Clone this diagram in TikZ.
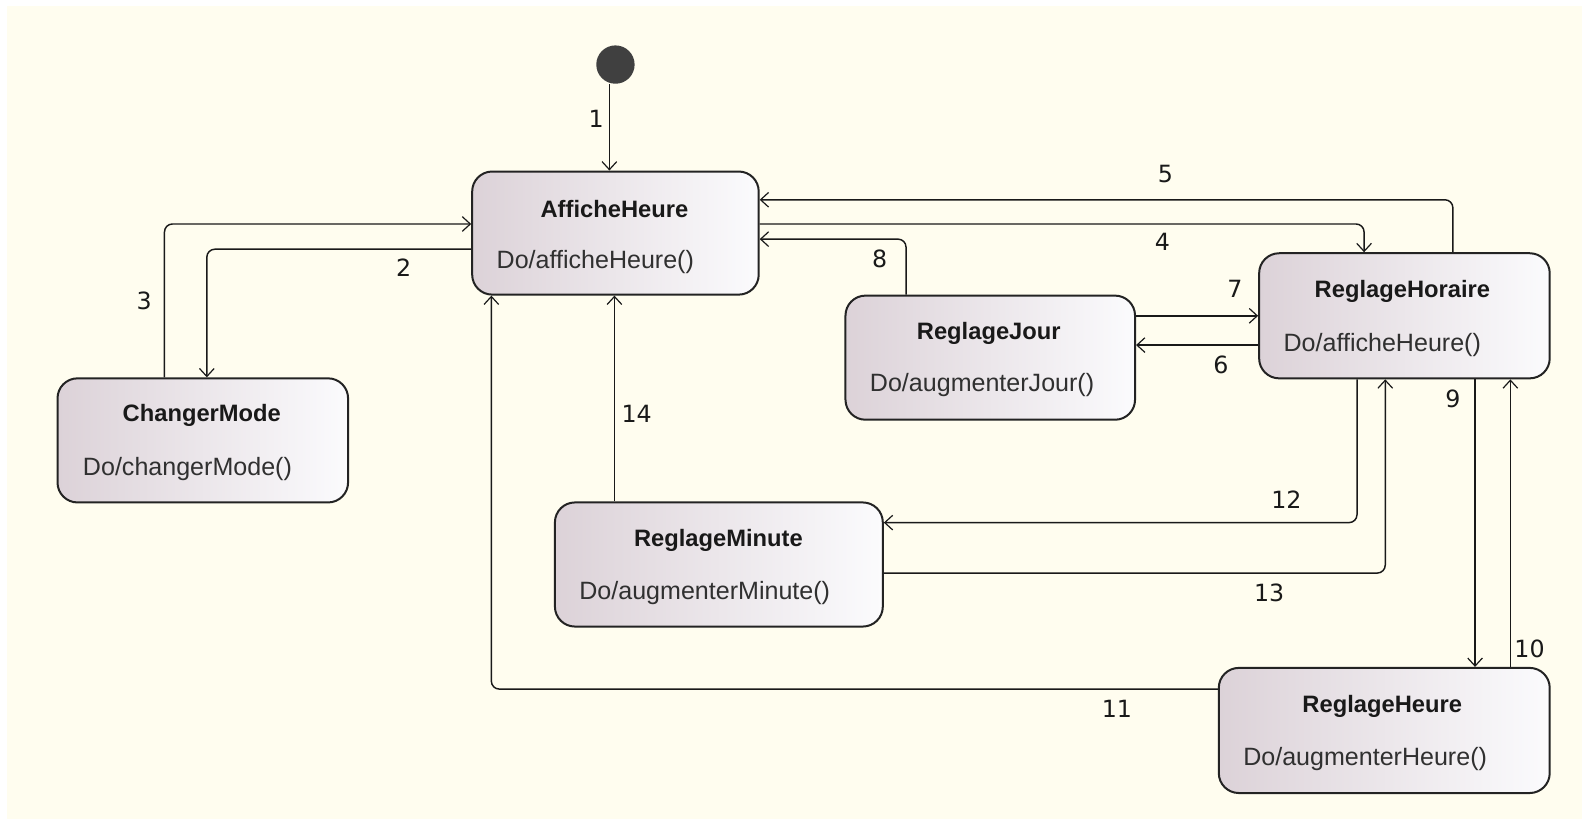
\documentclass[tikz,border=0pt]{standalone}
\usepackage{fontspec}
\setmainfont{Liberation Sans}
\newfontfamily\numfont{DejaVu Sans}
\usetikzlibrary{arrows.meta}
\definecolor{bg}{RGB}{255,253,239}
\definecolor{boxl}{RGB}{220,210,216}
\definecolor{boxr}{RGB}{251,251,253}
\definecolor{edge}{RGB}{35,35,35}
\definecolor{ink}{RGB}{25,25,25}
\newcommand\pxu{0.757pt}
\tikzset{
  statebox/.style={draw=edge, line width=1.5pt, rounded corners=15pt,
    left color=boxl, right color=boxr, inner sep=0pt},
  ttl/.style={font=\fontsize{17.8}{20}\selectfont\bfseries, text=ink, inner sep=0pt},
  bdy/.style={font=\fontsize{18.8}{21}\selectfont, text=ink!90, inner sep=0pt, anchor=west},
  num/.style={font=\fontsize{17.8}{20}\selectfont\numfont, text=ink, inner sep=0pt},
  tr/.style={draw=ink, line width=1.1pt, rounded corners=6pt,
    -{Straight Barb[length=6pt,width=11pt,line width=0.9pt]}},
}
\begin{document}
\begin{tikzpicture}[x=0.757pt,y=-0.757pt]
\useasboundingbox (0,0) rectangle (1568,812);
\fill[white] (0,0) rectangle (1568,812);
\fill[bg] (7,6) rectangle (1568,812);

% initial state
\node[circle, fill=black!75, minimum size=38*\pxu, inner sep=0pt] (init) at (610,64) {};

% states
\node[statebox, minimum width=284*\pxu, minimum height=122*\pxu] (aff) at (610,231) {};
\node[statebox, minimum width=288*\pxu, minimum height=123*\pxu] (chg) at (201,436.5) {};
\node[statebox, minimum width=287*\pxu, minimum height=123*\pxu] (jour) at (981.5,354.5) {};
\node[statebox, minimum width=288*\pxu, minimum height=124*\pxu] (hor) at (1392,313) {};
\node[statebox, minimum width=325*\pxu, minimum height=123*\pxu] (min) at (712.5,559.5) {};
\node[statebox, minimum width=328*\pxu, minimum height=124*\pxu] (heu) at (1372,724) {};

% state texts
\node[ttl] (aff-t) at (609,207) {AfficheHeure};
\node[bdy] (aff-b) at (492,260) {Do/afficheHeure()};
\node[ttl] (chg-t) at (200,412) {ChangerMode};
\node[bdy] (chg-b) at (82,465) {Do/changerMode()};
\node[ttl] (jour-t) at (980,330) {ReglageJour};
\node[bdy] (jour-b) at (862,382) {Do/augmenterJour()};
\node[ttl] (hor-t) at (1390,289) {ReglageHoraire};
\node[bdy] (hor-b) at (1272,342) {Do/afficheHeure()};
\node[ttl] (min-t) at (712,536) {ReglageMinute};
\node[bdy] (min-b) at (574,588) {Do/augmenterMinute()};
\node[ttl] (heu-t) at (1370,700) {ReglageHeure};
\node[bdy] (heu-b) at (1232,752) {Do/augmenterHeure()};

% transitions
\draw[tr] (init.south -| 604,0) -- (aff.north -| 604,0);
\draw[tr] (aff.west |- 0,247) -| (chg.north -| 205,0);
\draw[tr] (chg.north -| 163,0) |- (aff.west |- 0,222);
\draw[tr] (aff.east |- 0,222) -| (hor.north -| 1352,0);
\draw[tr] (hor.north -| 1440,0) |- (aff.east |- 0,198);
\draw[tr] (hor.west |- 0,342) -- (jour.east |- 0,342);
\draw[tr] (jour.east |- 0,313) -- (hor.west |- 0,313);
\draw[tr] (jour.north -| 898,0) |- (aff.east |- 0,237);
\draw[tr] (hor.south -| 1462,0) -- (heu.north -| 1462,0);
\draw[tr] (heu.north -| 1497,0) -- (hor.south -| 1497,0);
\draw[tr] (heu.west |- 0,683) -| (aff.south -| 487,0);
\draw[tr] (hor.south -| 1345,0) |- (min.east |- 0,518);
\draw[tr] (min.east |- 0,568) -| (hor.south -| 1373,0);
\draw[tr] (min.north -| 609,0) -- (aff.south -| 609,0);

% labels
\node[num] (n1) at (591,118) {1};
\node[num] (n2) at (400,265) {2};
\node[num] (n3) at (143,298) {3};
\node[num] (n4) at (1152,240) {4};
\node[num] (n5) at (1155,172) {5};
\node[num] (n6) at (1210,362) {6};
\node[num] (n7) at (1224,286) {7};
\node[num] (n8) at (872,257) {8};
\node[num] (n9) at (1440,395) {9};
\node[num] (n10) at (1516,643) {10};
\node[num] (n11) at (1107,703) {11};
\node[num] (n12) at (1275,495) {12};
\node[num] (n13) at (1258,588) {13};
\node[num] (n14) at (631,410) {14};
\end{tikzpicture}
\end{document}
